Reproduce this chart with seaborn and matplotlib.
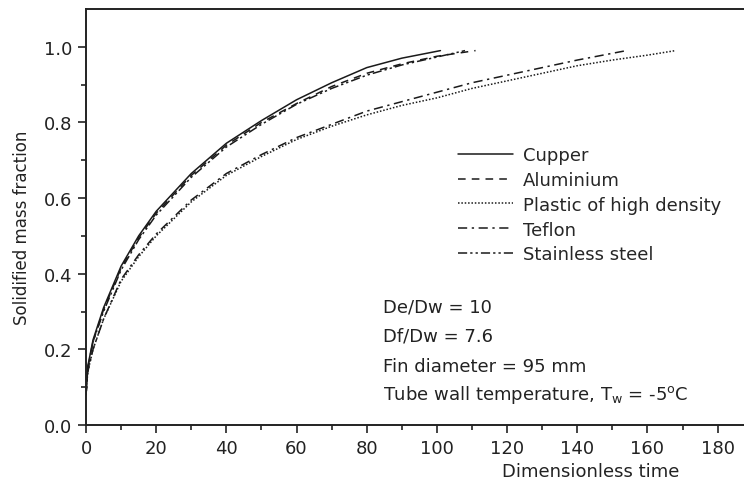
import matplotlib
matplotlib.use("Agg")
import matplotlib.pyplot as plt
import seaborn as sns
import pandas as pd

# ---- data ----
materials = ["Cupper", "Aluminium", "Plastic of high density", "Teflon", "Stainless steel"]

t_cupper = [0, 0.5, 2, 5, 10, 15, 20, 30, 40, 50, 60, 70, 80, 90, 101]
y_cupper = [0.08, 0.155, 0.225, 0.31, 0.42, 0.50, 0.565, 0.665, 0.745, 0.805, 0.86, 0.905, 0.945, 0.97, 0.99]

t_alum = [0, 0.5, 2, 5, 10, 15, 20, 30, 40, 50, 60, 70, 80, 90, 100, 111]
y_alum = [0.08, 0.15, 0.22, 0.305, 0.415, 0.495, 0.56, 0.66, 0.74, 0.80, 0.85, 0.895, 0.93, 0.955, 0.975, 0.99]

t_plastic = [0, 0.5, 2, 5, 10, 15, 20, 30, 40, 50, 60, 70, 80, 90, 100, 110, 120, 130, 140, 150, 160, 168]
y_plastic = [0.08, 0.14, 0.20, 0.28, 0.38, 0.445, 0.50, 0.59, 0.66, 0.71, 0.755, 0.79, 0.82, 0.845,
             0.865, 0.89, 0.91, 0.93, 0.95, 0.965, 0.978, 0.99]

t_teflon = [0, 0.5, 2, 5, 10, 15, 20, 30, 40, 50, 60, 70, 80, 90, 100, 110, 120, 130, 140, 154]
y_teflon = [0.08, 0.14, 0.20, 0.28, 0.385, 0.45, 0.505, 0.595, 0.665, 0.715, 0.76, 0.795, 0.83, 0.855,
            0.88, 0.905, 0.925, 0.945, 0.965, 0.99]

t_steel = [0, 0.5, 2, 5, 10, 15, 20, 30, 40, 50, 60, 70, 80, 90, 100, 108]
y_steel = [0.08, 0.15, 0.22, 0.30, 0.41, 0.49, 0.555, 0.655, 0.735, 0.795, 0.848, 0.89, 0.925, 0.952, 0.973, 0.99]

x_ticks = [0, 20, 40, 60, 80, 100, 120, 140, 160, 180]
y_ticks = [0.0, 0.2, 0.4, 0.6, 0.8, 1.0]

annotations = ["De/Dw = 10", "Df/Dw = 7.6", "Fin diameter = 95 mm",
               r"Tube wall temperature, T$_{\mathregular{w}}$ = -5$^{\mathregular{o}}$C"]

series = {
    "Cupper": (t_cupper, y_cupper),
    "Aluminium": (t_alum, y_alum),
    "Plastic of high density": (t_plastic, y_plastic),
    "Teflon": (t_teflon, y_teflon),
    "Stainless steel": (t_steel, y_steel),
}
frames = []
for name in materials:
    t, y = series[name]
    frames.append(pd.DataFrame({"time": t, "fraction": y, "material": name}))
df = pd.concat(frames, ignore_index=True)

# ---- style ----
sns.set_theme(style="ticks")
plt.rcParams["font.family"] = ["DejaVu Sans"]
plt.rcParams["mathtext.fontset"] = "dejavusans"

FS = 13
dashes = {
    "Cupper": "",
    "Aluminium": (5, 4),
    "Plastic of high density": (1, 1.2),
    "Teflon": (6, 3, 1.5, 3),
    "Stainless steel": (6, 2, 1.5, 2, 1.5, 2),
}
palette = {m: "#1a1a1a" for m in materials}

fig = plt.figure(figsize=(7.44, 4.81), dpi=100)
ax = fig.add_axes([86 / 744, 55 / 481, 1 - 86 / 744, 416 / 481])

sns.lineplot(data=df, x="time", y="fraction", hue="material", style="material",
             hue_order=materials, style_order=materials, palette=palette,
             dashes=dashes, linewidth=1.1, ax=ax, sort=False, estimator=None)

ax.set_xlim(0, 187.5)
ax.set_ylim(0, 1.1)
ax.set_xticks(x_ticks)
ax.set_yticks(y_ticks)
ax.set_yticklabels([f"{v:.1f}" for v in y_ticks])
ax.set_xticks([10, 30, 50, 70, 90, 110, 130, 150, 170], minor=True)
ax.set_yticks([0.1, 0.3, 0.5, 0.7, 0.9], minor=True)
ax.tick_params(axis="both", which="major", direction="out", length=6, width=1.2,
               labelsize=FS, colors="#222222", pad=4)
ax.tick_params(axis="both", which="minor", direction="out", length=3.5, width=1.2, colors="#222222")
for s in ["left", "bottom", "top"]:
    ax.spines[s].set_linewidth(1.4)
    ax.spines[s].set_color("#222222")
ax.spines["right"].set_visible(False)

ax.set_xlabel("Dimensionless time", fontsize=FS, color="#222222")
ax.set_ylabel("Solidified mass fraction", fontsize=12, color="#222222")
ax.xaxis.set_label_coords((591 - 86) / 658, -(463 - 426) / 416)
ax.yaxis.set_label_coords(-(86 - 31) / 658, (426 - 228) / 416)

leg = ax.legend(loc="upper left", bbox_to_anchor=((458 - 86) / 658, (426 - 147) / 416),
                frameon=False, fontsize=FS, handlelength=3.05, handletextpad=0.55,
                labelspacing=0.38, borderaxespad=0, borderpad=0)
for h in leg.get_lines():
    h.set_linewidth(1.1)

ys = [308, 337, 367, 395]
for txt, yp in zip(annotations, ys):
    fig.text(383 / 744, 1 - yp / 481, txt, fontsize=FS, color="#222222",
             va="center", ha="left")

fig.savefig("out.png", dpi=100)
